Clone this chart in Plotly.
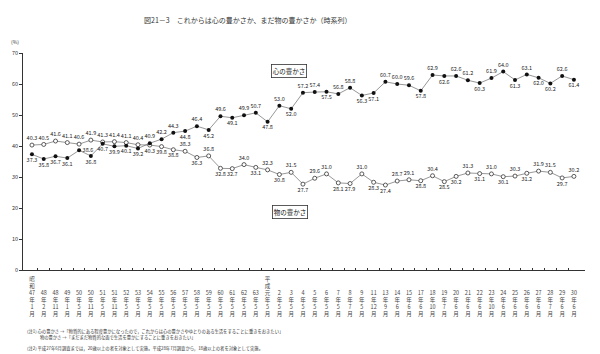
import plotly.graph_objects as go

# ---- data ----
year_lines = [
    ("昭和", "47", "1"), ("", "48", "2"), ("", "48", "11"), ("", "49", "1"),
    ("", "50", "5"), ("", "50", "11"), ("", "51", "5"), ("", "51", "11"),
    ("", "52", "5"), ("", "53", "5"), ("", "54", "5"), ("", "55", "5"),
    ("", "56", "5"), ("", "57", "5"), ("", "58", "5"), ("", "59", "5"),
    ("", "60", "5"), ("", "61", "5"), ("", "62", "5"), ("", "63", "5"),
    ("平成", "元", "5"), ("", "2", "5"), ("", "3", "5"), ("", "4", "5"),
    ("", "5", "5"), ("", "6", "5"), ("", "7", "5"), ("", "8", "7"),
    ("", "9", "5"), ("", "11", "12"), ("", "13", "9"), ("", "14", "6"),
    ("", "15", "6"), ("", "17", "6"), ("", "18", "10"), ("", "19", "7"),
    ("", "20", "6"), ("", "21", "6"), ("", "22", "6"), ("", "23", "10"),
    ("", "24", "6"), ("", "25", "6"), ("", "26", "6"), ("", "27", "6"),
    ("", "28", "7"), ("", "29", "6"), ("", "30", "6"),
]

kokoro = [37.3, 35.8, 36.7, 36.1, 38.6, 36.8, 40.7, 39.9, 40.1, 39.2,
          40.9, 42.2, 44.3, 44.8, 46.4, 45.2, 49.6, 49.1, 49.9, 50.7,
          47.8, 53.0, 52.0, 57.2, 57.4, 57.5, 56.8, 58.8, 56.3, 57.1,
          60.7, 60.0, 59.6, 57.8, 62.9, 62.6, 62.6, 61.2, 60.3, 61.9,
          64.0, 61.3, 63.1, 62.0, 60.2, 62.6, 61.4]

mono = [40.3, 40.5, 41.6, 41.1, 40.6, 41.9, 41.3, 41.4, 41.1, 40.4,
        40.3, 39.8, 38.8, 38.3, 36.3, 36.8, 32.8, 32.7, 34.0, 33.1,
        32.3, 30.8, 31.5, 27.7, 29.6, 31.0, 28.1, 27.9, 31.0, 28.3,
        27.4, 28.7, 29.1, 28.8, 30.4, 28.5, 30.2, 31.3, 31.1, 31.0,
        30.1, 30.3, 31.2, 31.9, 31.5, 29.7, 30.2]

series_names = ["心の豊かさ", "物の豊かさ"]
y_ticks = [0, 10, 20, 30, 40, 50, 60, 70]

title = "図21－3　これからは心の豊かさか、まだ物の豊かさか（時系列）"
note1 = "(注1) 心の豊かさ →「物質的にある程度豊かになったので，これからは心の豊かさやゆとりのある生活をすることに重きをおきたい」"
note1b = "　　　物の豊かさ →「まだまだ物質的な面で生活を豊かにすることに重きをおきたい」"
note2 = "(注2) 平成27年6月調査までは，20歳以上の者を対象として実施。平成28年7月調査から，18歳以上の者を対象として実施。"

# label placement (style): T = above, B = below, R = right
kokoro_pos = "BBBBRBBBBBTTTBTBTBTTBTBTTBTTBBTTTBTBTTBTTBTBBTB"
mono_pos = "TTTTTTTTTTBBBTBTBBTBTBTBTTBBTBBTTBTBBTBTBTBTTBT"

# ---- build ----
SP = "\u3000"
ticktext = []
for era, yr, mo in year_lines:
    top = list(era) if era else [SP, SP]
    ticktext.append("<br>".join(top + [yr, "年", mo, "月"]))
xs = list(range(len(year_lines)))

POS = {"T": "top center", "B": "bottom center", "R": "middle right"}
FONT = "Noto Sans CJK JP"
LINE = "#6a6a6a"
fig = go.Figure()
fig.add_trace(go.Scatter(
    x=xs, y=mono, mode="lines+markers+text", name=series_names[1],
    line=dict(color=LINE, width=0.7),
    marker=dict(symbol="circle", size=4, color="white",
                line=dict(color="#333333", width=0.8)),
    text=[f"{v:.1f}" for v in mono], textposition=[POS[c] for c in mono_pos],
    textfont=dict(size=5.5, color="#222222", family=FONT),
    cliponaxis=False, showlegend=False))
fig.add_trace(go.Scatter(
    x=xs, y=kokoro, mode="lines+markers+text", name=series_names[0],
    line=dict(color=LINE, width=0.7),
    marker=dict(symbol="circle", size=4, color="#111111"),
    text=[f"{v:.1f}" for v in kokoro], textposition=[POS[c] for c in kokoro_pos],
    textfont=dict(size=5.5, color="#222222", family=FONT),
    cliponaxis=False, showlegend=False))

fig.add_annotation(x=21.8, y=64.1, xref="x", yref="y", text=series_names[0],
                   showarrow=False, font=dict(size=6.5, family=FONT, color="#111"),
                   bordercolor="#333", borderwidth=0.8, borderpad=1, bgcolor="white")
fig.add_annotation(x=21.9, y=18.6, xref="x", yref="y", text=series_names[1],
                   showarrow=False, font=dict(size=6.5, family=FONT, color="#111"),
                   bordercolor="#333", borderwidth=0.8, borderpad=1, bgcolor="white")

W, H = 600, 354
L, R, T, B = 23, 15, 53, 84
pw, ph = W - L - R, H - T - B


def px(xp, yp):
    return (xp - L) / pw, (H - yp - B) / ph


tx, ty = px(248, 13)
fig.add_annotation(x=tx, y=ty, xref="paper", yref="paper", text=title,
                   showarrow=False, font=dict(size=7, family=FONT, color="#333"))
for t, ypx in [(note1, 331), (note1b, 337), (note2, 348)]:
    ax, ay = px(25, ypx)
    fig.add_annotation(x=ax, y=ay, xref="paper", yref="paper", text=t,
                       showarrow=False, xanchor="left", yanchor="middle",
                       font=dict(size=4.3, family=FONT, color="#333"))
ax, ay = px(9, 41)
fig.add_annotation(x=ax, y=ay, xref="paper", yref="paper", text="(%)",
                   showarrow=False, xanchor="left", yanchor="middle",
                   font=dict(size=5, family=FONT, color="#333"))

fig.update_layout(
    width=W, height=H, margin=dict(l=L, r=R, t=T, b=B),
    paper_bgcolor="white", plot_bgcolor="white",
    font=dict(family=FONT, color="#333"),
    xaxis=dict(range=[-0.76, 46.94], tickvals=xs, ticktext=ticktext,
               tickangle=0, tickfont=dict(size=5.5, family=FONT, color="#444"),
               showline=True, linecolor="#333", linewidth=0.8,
               ticks="", showgrid=False, zeroline=False, ticklabelstandoff=3,
               minor=dict(tickvals=[i + 0.5 for i in xs[:-1]], ticks="inside",
                          ticklen=2, tickcolor="#333", tickwidth=0.6)),
    yaxis=dict(range=[0, 70], tickvals=y_ticks, ticks="outside", ticklen=3,
               tickcolor="#333", tickwidth=0.6,
               tickfont=dict(size=5.5, family=FONT, color="#333"),
               showline=True, linecolor="#333", linewidth=0.8,
               showgrid=False, zeroline=False),
)

fig.write_html("out.html")
